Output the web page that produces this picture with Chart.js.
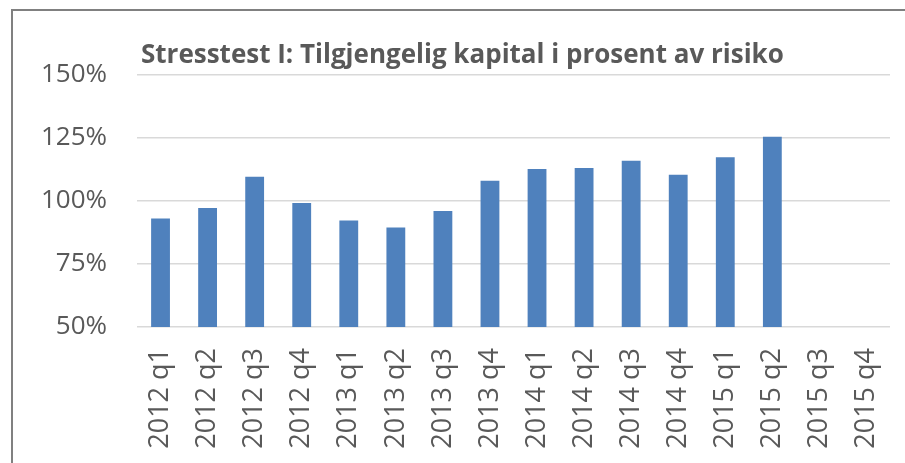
<!DOCTYPE html>
<html>
<head>
<meta charset="utf-8">
<script src="https://cdn.jsdelivr.net/npm/chart.js@4/dist/chart.umd.min.js"></script>
<style>
  html, body { margin: 0; padding: 0; background: #fff; overflow: hidden; }
  #wrap { position: relative; width: 905px; height: 463px; }
  #frame {
    position: absolute; left: 11px; top: 9px; width: 1000px; height: 1000px;
    border-left: 2px solid #808080; border-top: 2px solid #808080;
    pointer-events: none;
  }
</style>
</head>
<body>
<div id="wrap">
  <canvas id="chart" width="905" height="463"></canvas>
  <div id="frame"></div>
</div>
<script>
// quarters on the x axis
var quarters = ['2012 q1', '2012 q2', '2012 q3', '2012 q4',
                '2013 q1', '2013 q2', '2013 q3', '2013 q4',
                '2014 q1', '2014 q2', '2014 q3', '2014 q4',
                '2015 q1', '2015 q2', '2015 q3', '2015 q4'];

// available capital in percent of risk (last two quarters empty)
var capitalPct = [93.1, 97.2, 109.6, 99.2,
                  92.3, 89.5, 96.0, 108.0,
                  112.7, 113.1, 116.0, 110.4,
                  117.4, 125.5, null, null];

var yTicks = [50, 75, 100, 125, 150];
var titleText = 'Stresstest I: Tilgjengelig kapital i prosent av risiko';

var textColor = '#595959';

// title drawn at a fixed spot, like the spreadsheet chart
var titlePlugin = {
  id: 'fixedTitle',
  afterDraw: function (chart) {
    var ctx = chart.ctx;
    ctx.save();
    ctx.font = 'bold 26px "Open Sans"';
    ctx.fillStyle = textColor;
    ctx.textAlign = 'left';
    ctx.textBaseline = 'alphabetic';
    ctx.fillText(titleText, 141, 63);
    ctx.restore();
  }
};

var ctx = document.getElementById('chart').getContext('2d');
new Chart(ctx, {
  type: 'bar',
  data: {
    labels: quarters,
    datasets: [{
      label: 'Tilgjengelig kapital',
      data: capitalPct,
      backgroundColor: '#4F81BD',
      borderWidth: 0,
      categoryPercentage: 1.0,
      barPercentage: 0.4
    }]
  },
  options: {
    responsive: false,
    animation: false,
    layout: { padding: { top: 75, right: 15, bottom: 0, left: 0 } },
    plugins: {
      legend: { display: false },
      title: { display: false },
      tooltip: { enabled: false }
    },
    scales: {
      x: {
        grid: { display: false, drawTicks: false },
        border: { display: false },
        ticks: {
          color: textColor,
          font: { family: 'Open Sans', size: 27 },
          minRotation: 90,
          maxRotation: 90,
          autoSkip: false,
          padding: 21
        },
        afterFit: function (axis) {
          axis.height = 136;
          axis.paddingLeft = 0;
          axis.paddingRight = 0;
        }
      },
      y: {
        min: 50,
        max: 150,
        afterBuildTicks: function (axis) {
          axis.ticks = yTicks.map(function (v) { return { value: v }; });
        },
        grid: { color: '#d9d9d9', lineWidth: 1.5, drawTicks: false },
        border: { display: false },
        ticks: {
          color: textColor,
          font: { family: 'Open Sans', size: 26 },
          padding: 30,
          callback: function (v) { return v + '%'; }
        },
        afterFit: function (axis) { axis.width = 137; }
      }
    }
  },
  plugins: [titlePlugin]
});
</script>
</body>
</html>
